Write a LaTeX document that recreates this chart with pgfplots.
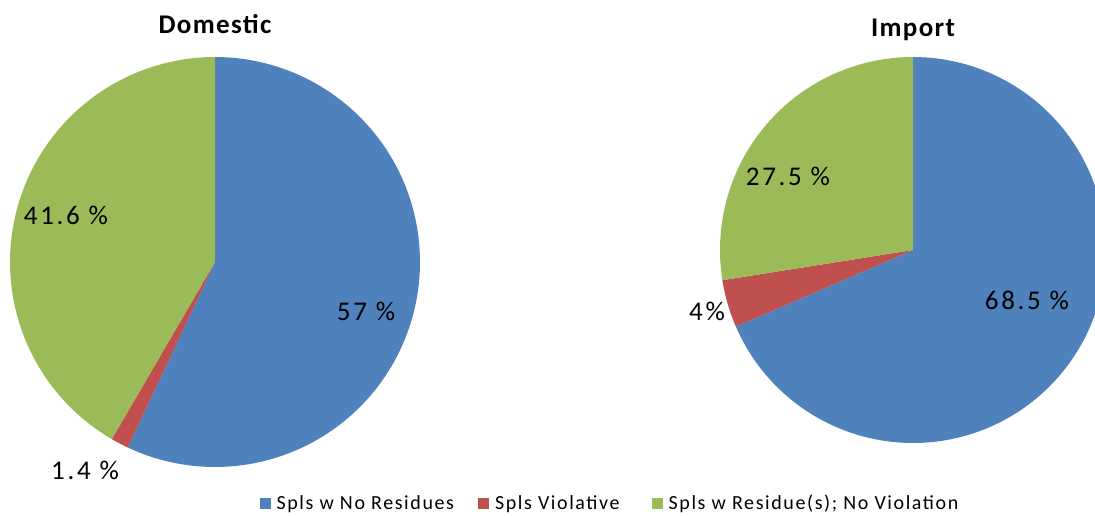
\documentclass[border=0pt]{standalone}
\usepackage{pgfplots}
\pgfplotsset{compat=1.18}
\usepackage{fontspec}
\setmainfont{Carlito}
\newfontfamily\labfont[LetterSpace=10]{Carlito}
\newfontfamily\legfont[LetterSpace=8]{Carlito}
\newfontfamily\titfont[LetterSpace=5]{Carlito}
\definecolor{cblue}{HTML}{4F81BD}
\definecolor{cred}{HTML}{C0504D}
\definecolor{cgreen}{HTML}{9BBB59}
% data (percent)
\def\DomA{57}\def\DomB{1.4}\def\DomC{41.6}
\def\ImpA{68.5}\def\ImpB{4}\def\ImpC{27.5}
\pgfmathsetmacro\dAe{90}%
\pgfmathsetmacro\dAs{90-3.6*\DomA}%
\pgfmathsetmacro\dBs{\dAs-3.6*\DomB}%
\pgfmathsetmacro\dCs{\dBs-3.6*\DomC}%
\pgfmathsetmacro\iAs{90-3.6*\ImpA}%
\pgfmathsetmacro\iBs{\iAs-3.6*\ImpB}%
\pgfmathsetmacro\iCs{\iBs-3.6*\ImpC}%
\begin{document}%
\begin{tikzpicture}
\begin{axis}[x=1pt,y=1pt,xmin=0,xmax=1095,ymin=0,ymax=515,
  at={(0,0)},anchor=south west,
  hide axis, clip=true,
  legend columns=3,
  legend style={at={(axis cs:610,12)},anchor=center,draw=none,fill=none,
    font=\fontsize{20}{23}\selectfont\legfont,
    /tikz/column 2/.style={column sep=22pt},
    /tikz/column 4/.style={column sep=30pt}},
  legend image code/.code={\fill (0pt,-5.5pt) rectangle (11pt,5.5pt); \path (15pt,0pt);},
]
% Domestic
\addplot[fill=cblue,draw=none,domain=\dAs:\dAe,samples=120,variable=\t]
  ({215+205*cos(t)},{253+205*sin(t)}) -- (axis cs:215,253) -- cycle;
\addlegendentry{Spls w No Residues}
\addplot[fill=cred,draw=none,domain=\dBs:\dAs,samples=10,variable=\t]
  ({215+205*cos(t)},{253+205*sin(t)}) -- (axis cs:215,253) -- cycle;
\addlegendentry{Spls Violative}
\addplot[fill=cgreen,draw=none,domain=\dCs:\dBs,samples=100,variable=\t]
  ({215+205*cos(t)},{253+205*sin(t)}) -- (axis cs:215,253) -- cycle;
\addlegendentry{Spls w Residue(s); No Violation}
% Import
\addplot[forget plot,fill=cblue,draw=none,domain=\iAs:\dAe,samples=140,variable=\t]
  ({913+193*cos(t)},{265+193*sin(t)}) -- (axis cs:913,265) -- cycle;
\addplot[forget plot,fill=cred,draw=none,domain=\iBs:\iAs,samples=20,variable=\t]
  ({913+193*cos(t)},{265+193*sin(t)}) -- (axis cs:913,265) -- cycle;
\addplot[forget plot,fill=cgreen,draw=none,domain=\iCs:\iBs,samples=80,variable=\t]
  ({913+193*cos(t)},{265+193*sin(t)}) -- (axis cs:913,265) -- cycle;
% labels
\begin{scope}[every node/.style={font=\fontsize{27}{30}\selectfont\labfont,inner sep=0pt}]
\node at (axis cs:366,204) {57 \%};
\node at (axis cs:66,300) {41.6 \%};
\node at (axis cs:85,45) {1.4 \%};
\node at (axis cs:1027,215) {68.5 \%};
\node at (axis cs:788,339) {27.5 \%};
\node at (axis cs:707,204) {4\%};
\end{scope}
\node[font=\fontsize{27}{30}\selectfont\titfont\bfseries] at (axis cs:215,491) {Domestic};
\node[font=\fontsize{27}{30}\selectfont\titfont\bfseries] at (axis cs:913,485) {Import};
\end{axis}
\pgfresetboundingbox
\useasboundingbox (0,0) rectangle (1095pt,515pt);
\end{tikzpicture}%
\end{document}
